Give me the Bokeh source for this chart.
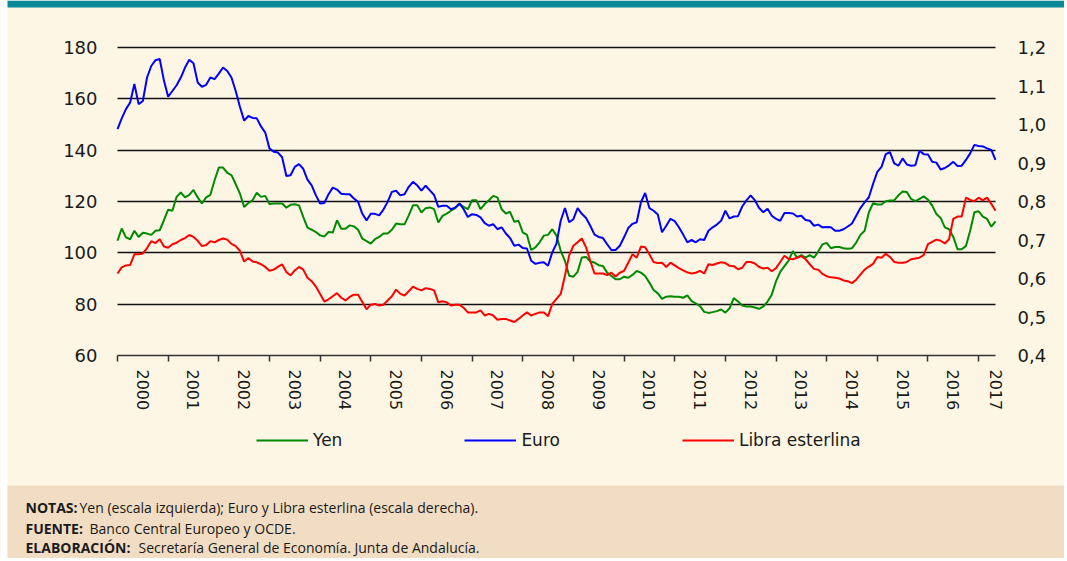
from bokeh.plotting import figure
from bokeh.models import (Range1d, LinearAxis, FixedTicker, CustomJSTickFormatter,
                          Legend, LegendItem, Label, BoxAnnotation, Grid)
from bokeh.embed import file_html
from bokeh.resources import INLINE

# ---------------- data (monthly, Jan 2000 - May 2017) ----------------
years = [str(y) for y in range(2000, 2018)]

yen = [
    104.7, 109.5, 106.0, 105.3, 108.6, 106.2, 107.8, 107.5, 107.0, 108.6, 108.8, 112.7,
    116.8, 116.4, 121.8, 123.5, 121.6, 122.6, 124.5, 121.6, 119.2, 121.6, 122.6, 128.3,
    133.2, 133.2, 131.2, 130.3, 126.8, 123.1, 117.9, 119.4, 120.5, 123.4, 121.8, 122.2,
    119.0, 119.2, 119.2, 119.2, 117.6, 118.7, 118.9, 118.5, 114.0, 109.8, 109.0, 108.1,
    106.8, 106.4, 108.1, 107.9, 112.7, 109.4, 109.4, 110.7, 110.3, 109.0, 105.5, 104.6,
    103.6, 105.3, 106.2, 107.5, 107.5, 109.0, 111.4, 111.1, 111.1, 114.6, 118.5, 118.5,
    115.7, 117.4, 117.7, 117.0, 111.8, 114.4, 115.3, 116.4, 117.4, 119.0, 117.9, 117.0,
    120.5, 120.5, 117.0, 119.0, 120.5, 122.2, 121.6, 117.0, 115.3, 116.0, 112.1, 112.5,
    108.0, 107.0, 101.1, 102.1, 104.1, 106.7, 107.0, 109.2, 106.7, 100.8, 96.9, 91.1,
    90.7, 92.6, 98.2, 98.4, 96.6, 96.2, 95.2, 94.9, 92.3, 91.0, 89.7, 89.7,
    90.7, 90.3, 91.4, 92.9, 92.3, 91.0, 88.4, 85.5, 84.2, 82.1, 82.9, 83.1,
    82.9, 82.9, 82.5, 83.4, 81.2, 80.3, 79.2, 77.0, 76.6, 76.9, 77.3, 77.9,
    76.7, 78.4, 82.4, 81.0, 79.5, 79.1, 79.1, 78.7, 78.2, 79.1, 81.0, 83.7,
    88.9, 92.6, 94.8, 97.0, 100.7, 98.1, 99.1, 98.1, 99.1, 98.1, 100.5, 103.3,
    103.9, 101.8, 102.3, 102.3, 101.8, 101.6, 101.8, 104.0, 107.0, 108.6, 115.8, 119.3,
    118.8, 118.8, 120.1, 120.4, 120.4, 122.4, 123.9, 123.7, 121.0, 120.1, 121.0, 122.0,
    120.7, 118.4, 115.1, 113.6, 109.9, 109.2, 106.2, 101.4, 101.4, 102.7, 108.6, 115.8,
    116.2, 114.1, 113.2, 110.2, 112.3,
]

euro = [
    0.988, 1.016, 1.040, 1.057, 1.105, 1.053, 1.061, 1.122, 1.152, 1.167, 1.170, 1.114,
    1.072, 1.087, 1.102, 1.122, 1.148, 1.168, 1.159, 1.109, 1.098, 1.103, 1.122, 1.118,
    1.132, 1.148, 1.139, 1.122, 1.087, 1.046, 1.010, 1.022, 1.017, 1.016, 0.995, 0.979,
    0.938, 0.929, 0.927, 0.915, 0.866, 0.868, 0.890, 0.897, 0.885, 0.857, 0.842, 0.816,
    0.795, 0.796, 0.819, 0.836, 0.831, 0.820, 0.819, 0.819, 0.808, 0.799, 0.768, 0.751,
    0.768, 0.768, 0.764, 0.779, 0.799, 0.825, 0.828, 0.816, 0.819, 0.838, 0.851, 0.842,
    0.828, 0.841, 0.829, 0.817, 0.786, 0.789, 0.789, 0.780, 0.784, 0.795, 0.780, 0.760,
    0.767, 0.765, 0.759, 0.744, 0.737, 0.741, 0.728, 0.733, 0.717, 0.705, 0.685, 0.688,
    0.679, 0.678, 0.646, 0.638, 0.641, 0.642, 0.633, 0.668, 0.691, 0.750, 0.783, 0.746,
    0.754, 0.783, 0.768, 0.757, 0.737, 0.714, 0.708, 0.705, 0.689, 0.674, 0.674, 0.685,
    0.707, 0.731, 0.742, 0.746, 0.798, 0.822, 0.783, 0.776, 0.766, 0.720, 0.737, 0.755,
    0.749, 0.733, 0.714, 0.694, 0.700, 0.694, 0.702, 0.700, 0.724, 0.733, 0.740, 0.750,
    0.776, 0.756, 0.761, 0.762, 0.787, 0.803, 0.816, 0.803, 0.783, 0.772, 0.781, 0.763,
    0.755, 0.750, 0.770, 0.770, 0.769, 0.761, 0.763, 0.752, 0.750, 0.737, 0.740, 0.733,
    0.734, 0.733, 0.724, 0.724, 0.728, 0.735, 0.743, 0.763, 0.783, 0.798, 0.811, 0.846,
    0.877, 0.890, 0.923, 0.928, 0.899, 0.893, 0.912, 0.896, 0.893, 0.894, 0.932, 0.923,
    0.922, 0.903, 0.901, 0.883, 0.887, 0.894, 0.903, 0.892, 0.893, 0.908, 0.925, 0.947,
    0.944, 0.943, 0.938, 0.934, 0.908,
]

libra = [
    0.613, 0.629, 0.634, 0.635, 0.663, 0.663, 0.665, 0.679, 0.697, 0.692, 0.702, 0.683,
    0.680, 0.689, 0.693, 0.700, 0.705, 0.713, 0.708, 0.698, 0.684, 0.687, 0.697, 0.694,
    0.700, 0.704, 0.701, 0.690, 0.684, 0.672, 0.644, 0.653, 0.644, 0.642, 0.637, 0.630,
    0.620, 0.623, 0.630, 0.637, 0.617, 0.608, 0.621, 0.630, 0.623, 0.602, 0.593, 0.579,
    0.560, 0.540, 0.546, 0.554, 0.562, 0.550, 0.543, 0.552, 0.558, 0.558, 0.539, 0.520,
    0.532, 0.534, 0.530, 0.532, 0.543, 0.554, 0.571, 0.560, 0.556, 0.567, 0.579, 0.573,
    0.569, 0.575, 0.573, 0.569, 0.538, 0.541, 0.538, 0.530, 0.532, 0.532, 0.524, 0.512,
    0.512, 0.512, 0.517, 0.504, 0.508, 0.504, 0.493, 0.495, 0.495, 0.491, 0.487, 0.495,
    0.504, 0.512, 0.504, 0.508, 0.512, 0.512, 0.502, 0.534, 0.547, 0.560, 0.607, 0.660,
    0.685, 0.694, 0.704, 0.681, 0.646, 0.613, 0.613, 0.613, 0.609, 0.615, 0.605, 0.615,
    0.620, 0.641, 0.663, 0.654, 0.683, 0.681, 0.663, 0.643, 0.640, 0.641, 0.630, 0.641,
    0.634, 0.627, 0.621, 0.616, 0.613, 0.615, 0.620, 0.613, 0.637, 0.635, 0.639, 0.642,
    0.640, 0.633, 0.632, 0.624, 0.628, 0.643, 0.643, 0.639, 0.630, 0.626, 0.628, 0.619,
    0.627, 0.643, 0.659, 0.651, 0.650, 0.654, 0.658, 0.650, 0.637, 0.625, 0.623, 0.612,
    0.606, 0.603, 0.602, 0.600, 0.595, 0.593, 0.588, 0.597, 0.610, 0.623, 0.631, 0.638,
    0.656, 0.654, 0.664, 0.656, 0.643, 0.641, 0.641, 0.643, 0.650, 0.652, 0.654, 0.661,
    0.689, 0.695, 0.701, 0.698, 0.691, 0.702, 0.755, 0.761, 0.761, 0.810, 0.804, 0.801,
    0.810, 0.803, 0.810, 0.794, 0.776,
]

left_ticks = [60, 80, 100, 120, 140, 160, 180]
right_ticks = [0.4, 0.5, 0.6, 0.7, 0.8, 0.9, 1.0, 1.1, 1.2]
series_names = ["Yen", "Euro", "Libra esterlina"]
notes = [
    ("NOTAS:", "Yen (escala izquierda); Euro y Libra esterlina (escala derecha)."),
    ("FUENTE:", "Banco Central Europeo y OCDE."),
    ("ELABORACIÓN:", "Secretaría General de Economía. Junta de Andalucía."),
]

# ---------------- layout (pixels) & styling ----------------
W, H = 1064, 558
PL, PR, PT, PB = 117, 995, 47, 355          # plot area inside the canvas
BAND_TOP = 485                               # top of the notes band
STRIP = 7                                    # teal top strip / white left strip
CREAM = "#FDF6E4"
BEIGE = "#F0DDC3"
TEAL = "#0A8A96"
TXT = "#1a1a1a"
FONT = "DejaVu Sans"
NOTE_FONT = "Open Sans"
COLORS = ["#008a00", "#0000ff", "#ff0000"]

n = len(yen)
months = list(range(n))
year_starts = [12 * i for i in range(len(years)) if 12 * i < n]
label_pos = [12 * i + 6 for i in range(len(years) - 1)] + [n - 1]

# ranges chosen so that the data area lands on PL..PR / PT..PB of a full-canvas frame
xpx = (PR - PL) / (n - 1)
ly0, ly1 = left_ticks[0], left_ticks[-1]
ypx = (PB - PT) / (ly1 - ly0)
x_start, x_end = -PL / xpx, (W - PL) / xpx
y_start, y_end = ly0 - (H - PB) / ypx, ly0 + PB / ypx
ry0, ry1 = right_ticks[0], right_ticks[-1]
k = (ry1 - ry0) / (ly1 - ly0)
r_start, r_end = ry0 + (y_start - ly0) * k, ry0 + (y_end - ly0) * k

p = figure(width=W, height=H, output_backend="svg", toolbar_location=None,
           x_range=Range1d(x_start, x_end), y_range=Range1d(y_start, y_end),
           min_border=0, background_fill_color=CREAM, border_fill_color=CREAM,
           outline_line_color=None)
p.extra_y_ranges = {"right": Range1d(r_start, r_end)}

# decorations: white left strip, teal top strip, beige notes band
for l, r, b, t, c in [(0, STRIP, 0, H, "white"),
                      (STRIP, W, H - STRIP, H, TEAL),
                      (STRIP, W, 0, H - BAND_TOP, BEIGE)]:
    p.add_layout(BoxAnnotation(left=l, right=r, bottom=b, top=t,
                               left_units="screen", right_units="screen",
                               bottom_units="screen", top_units="screen",
                               fill_color=c, fill_alpha=1.0, line_color=None,
                               level="underlay"))

# grid
p.xgrid.visible = False
grid_vals = left_ticks[1:]
if "cross_bounds" in Grid.properties():
    p.ygrid.ticker = FixedTicker(ticks=grid_vals)
    p.ygrid.cross_bounds = (0, n - 1)
    p.ygrid.bounds = (ly0, ly1)
    p.ygrid.grid_line_color = "#111111"
    p.ygrid.grid_line_width = 1.6
else:
    p.ygrid.visible = False
    p.segment(x0=[0] * len(grid_vals), x1=[n - 1] * len(grid_vals),
              y0=grid_vals, y1=grid_vals, line_color="#111111", line_width=1.6)

# x axis (fixed at the bottom of the plot area)
xax = p.xaxis[0]
xax.fixed_location = ly0
xax.bounds = (0, n - 1)
xax.ticker = FixedTicker(ticks=label_pos, minor_ticks=year_starts)
xax.major_label_overrides = {pos: yr for pos, yr in zip(label_pos, years)}
xax.major_label_orientation = "vertical"
xax.major_tick_in = 0
xax.major_tick_out = 0
xax.major_tick_line_color = None
xax.minor_tick_in = 0
xax.minor_tick_out = 6
xax.minor_tick_line_color = "#333333"
xax.minor_tick_line_width = 1.5
xax.axis_line_color = "#333333"
xax.axis_line_width = 1.5
xax.major_label_standoff = 8
xax.major_label_text_font = FONT
xax.major_label_text_font_size = "16px"
xax.major_label_text_color = TXT

# left axis
yax = p.yaxis[0]
yax.fixed_location = 0
yax.bounds = (ly0, ly1)
yax.ticker = FixedTicker(ticks=left_ticks)
yax.axis_line_color = None
yax.major_tick_line_color = None
yax.minor_tick_line_color = None
yax.major_tick_out = 0
yax.major_label_standoff = 20
yax.major_label_text_font = FONT
yax.major_label_text_font_size = "18px"
yax.major_label_text_color = TXT

# right axis
rax = LinearAxis(y_range_name="right", ticker=FixedTicker(ticks=right_ticks),
                 formatter=CustomJSTickFormatter(code="return tick.toFixed(1).replace('.', ',');"))
rax.fixed_location = n - 1
rax.bounds = (ry0, ry1)
rax.axis_line_color = None
rax.major_tick_line_color = None
rax.minor_tick_line_color = None
rax.major_tick_out = 0
rax.major_label_standoff = 22
rax.major_label_text_font = FONT
rax.major_label_text_font_size = "18px"
rax.major_label_text_color = TXT
p.add_layout(rax, "right")

# series
r_yen = p.line(months, yen, line_color=COLORS[0], line_width=2)
r_euro = p.line(months, euro, line_color=COLORS[1], line_width=2, y_range_name="right")
r_libra = p.line(months, libra, line_color=COLORS[2], line_width=2, y_range_name="right")

legend = Legend(items=[LegendItem(label=nm, renderers=[r])
                       for nm, r in zip(series_names, [r_yen, r_euro, r_libra])],
                location=(256, H - 450), orientation="horizontal",
                padding=0, margin=0, glyph_width=52, glyph_height=20,
                label_standoff=5, spacing=122, background_fill_alpha=0,
                border_line_color=None, label_text_font=FONT,
                label_text_font_size="17px", label_text_color=TXT)
p.add_layout(legend)

# notes
bold_x = 25
reg_x = [79, 89, 138]
baselines = [507, 528, 547]
for (head, body), rx, by in zip(notes, reg_x, baselines):
    p.add_layout(Label(x=bold_x, y=H - by, x_units="screen", y_units="screen",
                       text=head, text_font=NOTE_FONT, text_font_size="14px",
                       text_font_style="bold", text_color=TXT,
                       text_baseline="alphabetic"))
    p.add_layout(Label(x=rx, y=H - by, x_units="screen", y_units="screen",
                       text=body, text_font=NOTE_FONT, text_font_size="14px",
                       text_color=TXT, text_baseline="alphabetic"))

open("out.html", "w").write(file_html(p, INLINE))
